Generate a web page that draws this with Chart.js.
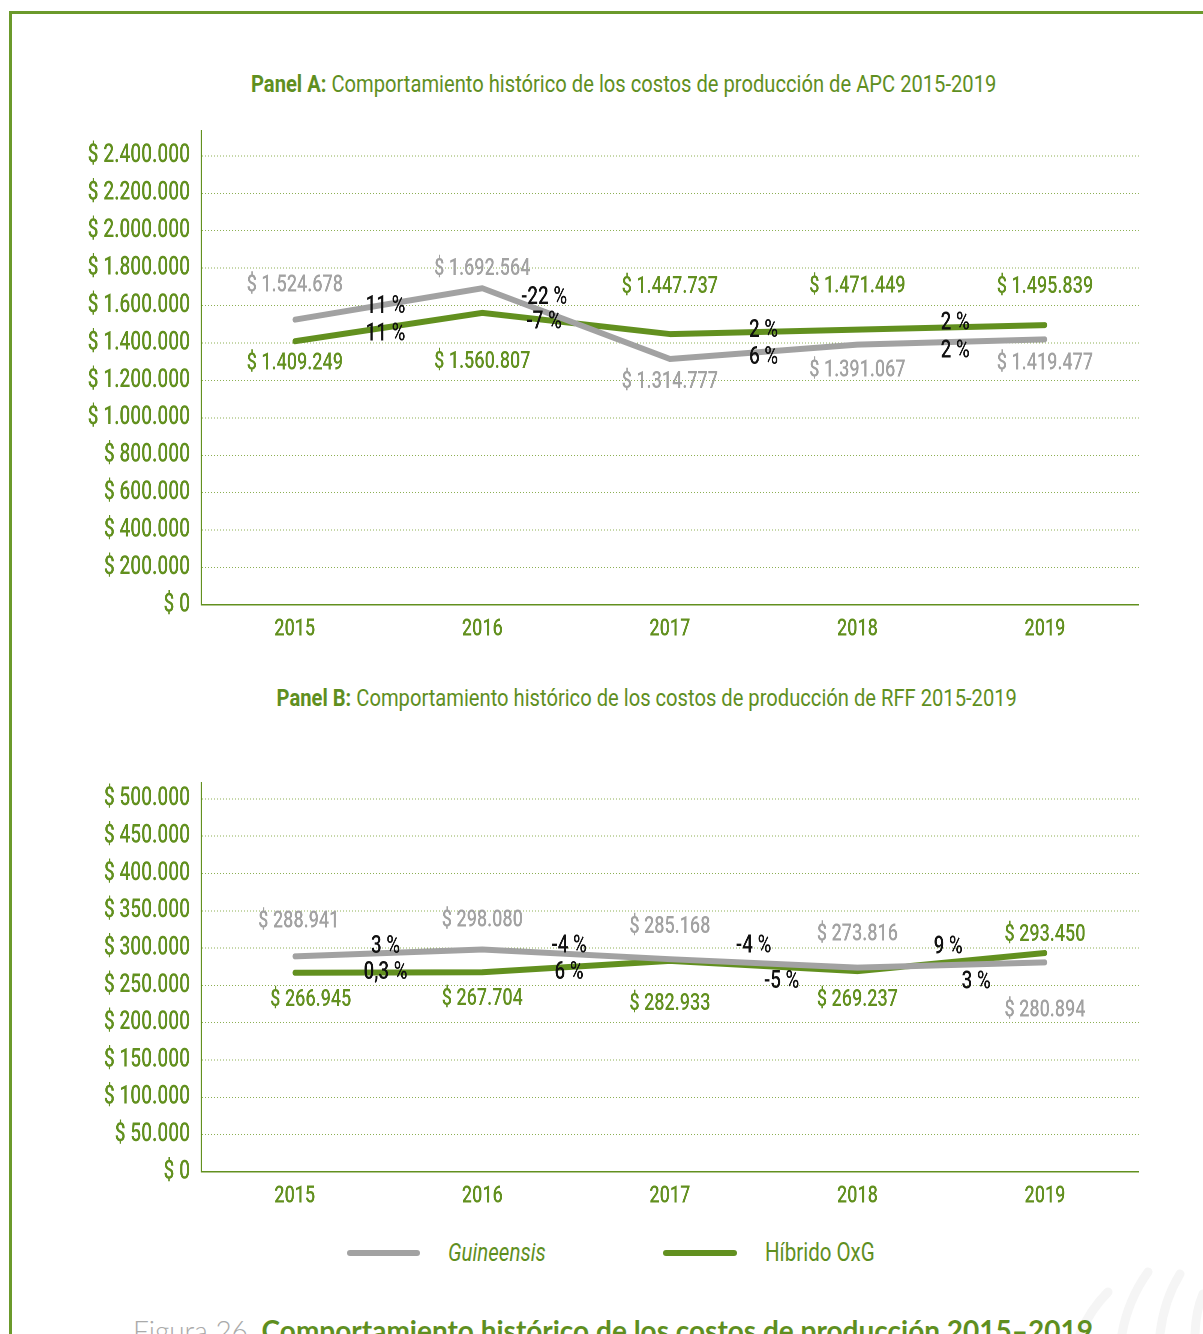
<!DOCTYPE html>
<html lang="es">
<head>
<meta charset="utf-8">
<title>Costos de producción 2015-2019</title>
<script src="https://cdn.jsdelivr.net/npm/chart.js@4.4.1/dist/chart.umd.min.js"></script>
<style>
  body { margin: 0; background: #fff; width: 1203px; height: 1334px; overflow: hidden; position: relative;
         font-family: Roboto, sans-serif; }
  .frame { position: absolute; left: 9px; top: 11px; width: 1300px; height: 1400px;
           border-left: 3px solid #6b9a2b; border-top: 3px solid #6b9a2b; }
  .title { position: absolute; text-align: center; color: #5f8f1f; font-size: 24px; white-space: nowrap; }
  .narrow { display: inline-block; transform: scaleX(0.84); transform-origin: 50% 50%; }
  .box { position: absolute; left: 60px; width: 1441.33px; transform: scaleX(0.75); transform-origin: 0 0; }
  .swatch { position: absolute; height: 6px; border-radius: 3px; }
  .leg { position: absolute; color: #5f8f1f; font-size: 25px; line-height: 28px; transform: scaleX(0.82); transform-origin: 0 0; white-space: nowrap; }
  .caption { position: absolute; left: 133px; top: 1315px; font-family: Lato, sans-serif; font-size: 28px; line-height: 30px; white-space: nowrap; }
  .caption .fig { color: #aaa; font-weight: 300; }
  .caption .txt { color: #5f8f1f; font-weight: 700; }
</style>
</head>
<body>
<div class="frame"></div>

<div class="title" style="left:0;width:1248px;top:70px;"><span class="narrow"><b>Panel A:</b> Comportamiento histórico de los costos de producción de APC 2015-2019</span></div>
<div class="box" style="top:101px;height:550px;"><canvas id="panelA"></canvas></div>

<div class="title" style="left:0;width:1294px;top:684px;"><span class="narrow"><b>Panel B:</b> Comportamiento histórico de los costos de producción de RFF 2015-2019</span></div>
<div class="box" style="top:753px;height:465px;"><canvas id="panelB"></canvas></div>

<div class="swatch" style="left:347px;top:1250px;width:73px;background:#a2a2a2;"></div>
<div class="leg" style="left:448px;top:1239px;font-style:italic;">Guineensis</div>
<div class="swatch" style="left:663px;top:1250px;width:74px;background:#62901f;"></div>
<div class="leg" style="left:765px;top:1239px;">Híbrido OxG</div>

<svg style="position:absolute;left:1060px;top:1260px;" width="143" height="74">
  <g fill="none" stroke="#f5f5f5" stroke-width="9" stroke-linecap="round">
    <path d="M20 74 Q 30 50 48 32"/>
    <path d="M62 74 Q 68 40 88 12"/>
    <path d="M100 74 Q 104 40 120 14"/>
    <path d="M135 74 Q 136 50 143 34"/>
  </g>
</svg>

<div class="caption"><span class="fig">Figura 26.</span> <span class="txt">Comportamiento histórico de los costos de producción 2015–2019</span></div>

<script>
const years = ['2015', '2016', '2017', '2018', '2019'];

// Panel A: APC
const guineensisA = [1524678, 1692564, 1314777, 1391067, 1419477];
const hibridoA = [1409249, 1560807, 1447737, 1471449, 1495839];
const varGuineensisA = [11, -22, 6, 2];
const varHibridoA = [11, -7, 2, 2];
const ticksA = [0, 200000, 400000, 600000, 800000, 1000000, 1200000, 1400000, 1600000, 1800000, 2000000, 2200000, 2400000];

// Panel B: RFF
const guineensisB = [288941, 298080, 285168, 273816, 280894];
const hibridoB = [266945, 267704, 282933, 269237, 293450];
const varGuineensisB = [3, -4, -4, 3];
const varHibridoB = [0.3, 6, -5, 9];
const ticksB = [0, 50000, 100000, 150000, 200000, 250000, 300000, 350000, 400000, 450000, 500000];

const GREEN = '#62901f';
const GRAY = '#a2a2a2';
const GRID = '#7fa640';
const FONT = 'Roboto, sans-serif';
const S = 0.75; // canvases are squeezed horizontally to get a condensed face

// where each label sits relative to its point / segment middle [dx, dy] in page px
const placeA = {
  gValue: [[0, -34], [0, -19], [0, 23], [0, 26], [0, 24]],
  hValue: [[0, 22], [0, 49], [0, -47], [0, -43], [0, -38]],
  gVar: [[-3, 3], [-32, -26], [0, 6], [4, 9]],
  hVar: [[-3, 7], [-32, -1], [0, -1], [4, -4]]
};
const placeB = {
  gValue: [[4, -35], [0, -29], [0, -32], [0, -33], [0, 48]],
  hValue: [[16, 27], [0, 27], [0, 43], [0, 29], [0, -18]],
  gVar: [[-3, -6], [-7, -8], [-10, -17], [25, 17]],
  hVar: [[-3, 0], [-7, 6], [18, 16], [-3, -15]]
};

const money = v => '$ ' + String(v).replace(/\B(?=(\d{3})+(?!\d))/g, '.');
const pct = p => String(p).replace('.', ',') + ' %';

const labelPlugin = {
  id: 'labels',
  afterDatasetsDraw(chart, args, opts) {
    const ctx = chart.ctx;
    const xs = chart.scales.x, ys = chart.scales.y;
    const g = chart.data.datasets[0].data, h = chart.data.datasets[1].data;
    const p = opts.place;
    ctx.save();
    ctx.textAlign = 'center';
    ctx.textBaseline = 'middle';
    const values = (data, shift, color) => {
      ctx.font = '500 24px ' + FONT;
      ctx.fillStyle = color;
      data.forEach((v, i) => {
        ctx.fillText(money(v), xs.getPixelForValue(i) + shift[i][0] / S, ys.getPixelForValue(v) + shift[i][1]);
      });
    };
    const changes = (data, vars, shift) => {
      ctx.font = '500 25px ' + FONT;
      ctx.fillStyle = '#111';
      vars.forEach((c, i) => {
        const x = (xs.getPixelForValue(i) + xs.getPixelForValue(i + 1)) / 2;
        const y = (ys.getPixelForValue(data[i]) + ys.getPixelForValue(data[i + 1])) / 2;
        ctx.fillText(pct(c), x + shift[i][0] / S, y + shift[i][1]);
      });
    };
    values(g, p.gValue, GRAY);
    values(h, p.hValue, GREEN);
    changes(g, opts.gVars, p.gVar);
    changes(h, opts.hVars, p.hVar);
    ctx.restore();
  }
};

function makeChart(id, g, h, max, tickValues, place, gVars, hVars) {
  const line = (label, data, color) => ({
    label: label, data: data, borderColor: color, borderWidth: 6,
    pointRadius: 0, tension: 0, borderCapStyle: 'round', borderJoinStyle: 'round', fill: false
  });
  new Chart(document.getElementById(id), {
    type: 'line',
    data: {
      labels: years,
      datasets: [line('Guineensis', g, GRAY), line('Híbrido OxG', h, GREEN)]
    },
    options: {
      responsive: true,
      maintainAspectRatio: false,
      animation: false,
      devicePixelRatio: 2,
      layout: { padding: { top: 7, right: 0, left: 0, bottom: 0 } },
      plugins: {
        legend: { display: false },
        tooltip: { enabled: false },
        labels: { place: place, gVars: gVars, hVars: hVars }
      },
      scales: {
        x: {
          offset: true,
          grid: { display: false, drawTicks: false },
          border: { color: GREEN, width: 1.5 },
          ticks: { color: GREEN, font: { family: FONT, size: 24, weight: '500' }, padding: 10 },
          afterFit(s) { s.height = 46; }
        },
        y: {
          min: 0,
          max: max,
          grid: { color: GRID, lineWidth: 1, drawTicks: false },
          border: { color: GREEN, width: 1.5, dash: [1.4, 2.6] },
          ticks: {
            color: GREEN, font: { family: FONT, size: 25.5, weight: '500' }, padding: 11 / S,
            callback: v => money(v)
          },
          afterBuildTicks(s) { s.ticks = tickValues.map(v => ({ value: v })); },
          afterFit(s) { s.width = 141 / S; }
        }
      }
    },
    plugins: [labelPlugin]
  });
}

makeChart('panelA', guineensisA, hibridoA, 2533000, ticksA, placeA, varGuineensisA, varHibridoA);
makeChart('panelB', guineensisB, hibridoB, 521300, ticksB, placeB, varGuineensisB, varHibridoB);
</script>
</body>
</html>
